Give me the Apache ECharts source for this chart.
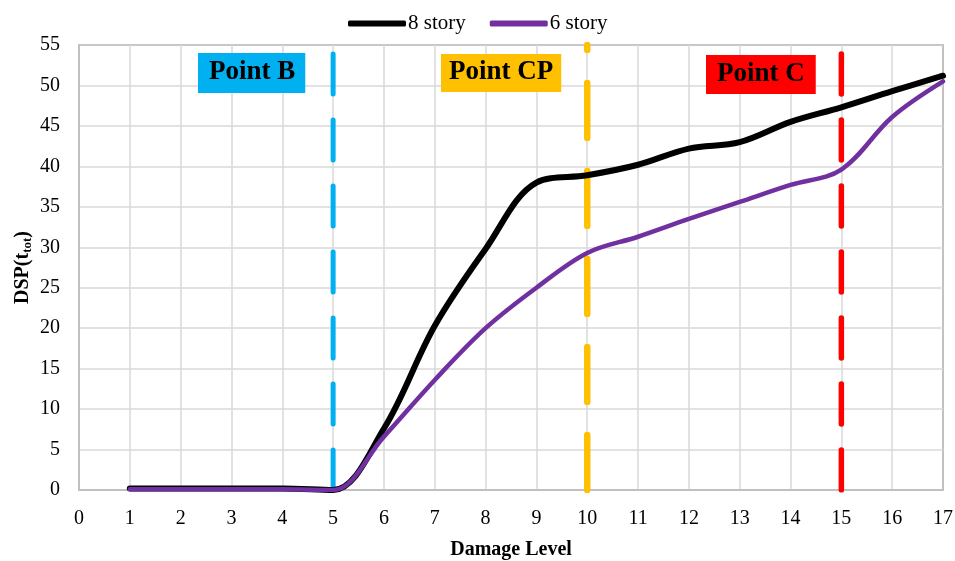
<!DOCTYPE html>
<html>
<head>
<meta charset="utf-8">
<script src="https://cdn.jsdelivr.net/npm/echarts@6/dist/echarts.min.js"></script>
<style>
  html, body { margin: 0; padding: 0; background: #fff; }
  #chart { width: 955px; height: 561px; }
</style>
</head>
<body>
<div id="chart"></div>
<script>
// Damage levels on the x axis
var damageLevels = [1, 2, 3, 4, 5, 6, 7, 8, 9, 10, 11, 12, 13, 14, 15, 16, 17];
// DSP(t_tot) per damage level
var story8 = [0.2, 0.2, 0.2, 0.2, 0, 7.6, 20.3, 29.8, 38, 38.9, 40.2, 42.2, 43, 45.5, 47.3, 49.3, 51.2];
var story6 = [0.1, 0.1, 0.1, 0.1, 0, 6.6, 13.6, 20, 25, 29.3, 31.3, 33.5, 35.6, 37.7, 39.6, 46.1, 50.5];
// Reference damage levels marked by vertical lines
var markerNames = ['Point B', 'Point CP', 'Point C'];
var markerLevels = [5, 10, 15];
var yTop = 55;

var serif = 'Liberation Serif, Times New Roman, serif';

function pairs(xs, ys) {
  return xs.map(function (x, i) { return [x, ys[i]]; });
}

var markerStyles = [
  { color: '#00B0F0', width: 5, dash: [40, 26] },
  { color: '#FFC000', width: 6.5, dash: [55, 33] },
  { color: '#FF0000', width: 5.5, dash: [40, 26] }
];

var markerSeries = markerLevels.map(function (lvl, i) {
  var s = markerStyles[i];
  return {
    name: markerNames[i],
    type: 'line',
    data: [[lvl, 0], [lvl, yTop]],
    showSymbol: false,
    symbol: 'none',
    silent: true,
    z: 1,
    lineStyle: { color: s.color, width: s.width, type: s.dash, cap: 'round' }
  };
});

var chart = echarts.init(document.getElementById('chart'));
chart.setOption({
  animation: false,
  backgroundColor: '#fff',
  grid: {
    left: 79, right: 12, top: 45, bottom: 71,
    containLabel: false,
    outerBoundsMode: 'none',
    show: true, borderColor: '#262626', borderWidth: 1.2
  },
  legend: {
    data: ['8 story', '6 story'],
    left: 343,
    top: 8,
    itemWidth: 58,
    itemHeight: 6,
    itemGap: 24,
    icon: 'roundRect',
    textStyle: { fontFamily: serif, fontSize: 21, color: '#000', padding: [0, 0, 0, -3] }
  },
  xAxis: {
    type: 'value',
    min: 0, max: 17, interval: 1,
    name: 'Damage Level',
    nameLocation: 'middle',
    nameGap: 50,
    nameMoveOverlap: false,
    nameTextStyle: { fontFamily: serif, fontSize: 20, fontWeight: 'bold', color: '#000' },
    axisLine: { show: true, lineStyle: { color: '#bfbfbf', width: 1.5 } },
    axisTick: { show: false },
    axisLabel: { fontFamily: serif, fontSize: 20, color: '#000', margin: 19 },
    splitLine: { show: true, lineStyle: { color: '#d9d9d9', width: 1.5 } }
  },
  yAxis: {
    type: 'value',
    min: 0, max: 55, interval: 5,
    name: '{a|DSP(t}{s|tot}{a|)}',
    nameLocation: 'middle',
    nameGap: 45,
    nameRotate: 90,
    nameMoveOverlap: false,
    nameTextStyle: {
      rich: {
        a: { fontFamily: serif, fontSize: 20, fontWeight: 'bold', color: '#000' },
        s: { fontFamily: serif, fontSize: 13, fontWeight: 'bold', color: '#000', padding: [9, 0, 0, 0] }
      }
    },
    axisLine: { show: true, lineStyle: { color: '#bfbfbf', width: 1.5 } },
    axisTick: { show: false },
    axisLabel: { fontFamily: serif, fontSize: 20, color: '#000', margin: 19 },
    splitLine: { show: true, lineStyle: { color: '#d9d9d9', width: 1.5 } }
  },
  series: markerSeries.concat([
    {
      name: '8 story',
      type: 'line',
      data: pairs(damageLevels, story8),
      smooth: 0.35,
      showSymbol: false,
      symbol: 'none',
      z: 3,
      itemStyle: { color: '#000000' },
      lineStyle: { color: '#000000', width: 6, cap: 'round', join: 'round' }
    },
    {
      name: '6 story',
      type: 'line',
      data: pairs(damageLevels, story6),
      smooth: 0.35,
      showSymbol: false,
      symbol: 'none',
      z: 4,
      itemStyle: { color: '#7030A0' },
      lineStyle: { color: '#7030A0', width: 4.5, cap: 'round', join: 'round' }
    }
  ]),
  graphic: [
    {
      type: 'text', left: 198, top: 53, z: 10,
      style: { text: markerNames[0], font: 'bold 27px ' + serif, fill: '#000',
        backgroundColor: '#00B0F0', padding: [6, 10, 7, 11] }
    },
    {
      type: 'text', left: 441, top: 54, z: 10,
      style: { text: markerNames[1], font: 'bold 27px ' + serif, fill: '#000',
        backgroundColor: '#FFC000', padding: [5, 8, 6, 8] }
    },
    {
      type: 'text', left: 706, top: 55, z: 10,
      style: { text: markerNames[2], font: 'bold 27px ' + serif, fill: '#000',
        backgroundColor: '#FF0000', padding: [6, 11, 6, 11] }
    }
  ]
});
</script>
</body>
</html>
